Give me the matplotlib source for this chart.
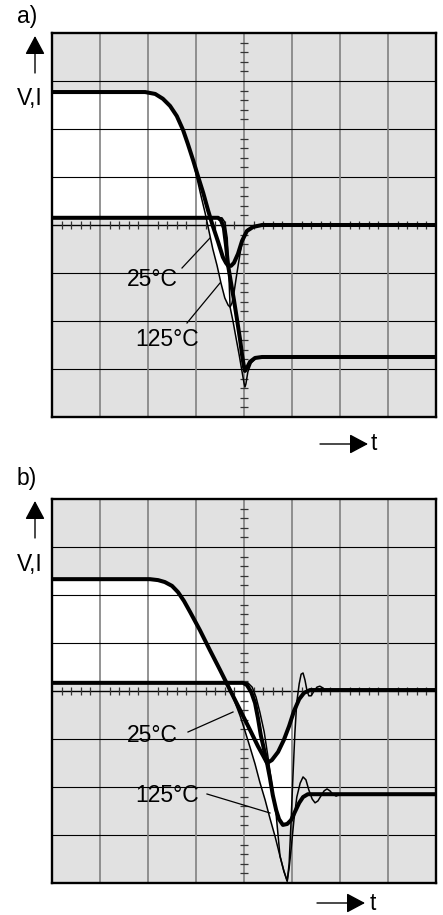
import matplotlib.pyplot as plt
from matplotlib.patches import FancyArrowPatch, Polygon
from matplotlib.lines import Line2D
import numpy as np

plt.rcParams['font.family'] = ['Liberation Sans', 'DejaVu Sans']

W, H = 443, 915
SCREEN = '#e1e1e1'
GRID_GREY = '#808080'

# ---- trace data, in screen divisions (t, level) ----
# panel a
a_i25_t = [-4.0, -2.06, -1.85, -1.69, -1.54, -1.40, -1.27, -1.17, -1.06, -0.96, -0.85, -0.75,
           -0.65, -0.54, -0.44, -0.375, -0.33, -0.27, -0.21, -0.125, -0.04, 0.06, 0.19, 0.375, 4.0]
a_i25_v = [2.77, 2.77, 2.73, 2.63, 2.48, 2.27, 1.98, 1.69, 1.35, 1.02, 0.67, 0.31,
           -0.02, -0.35, -0.67, -0.79, -0.85, -0.85, -0.79, -0.60, -0.33, -0.125, -0.04, 0.0, 0.0]

a_i125_t = [-4.0, -2.06, -1.85, -1.69, -1.54, -1.40, -1.27, -1.17, -1.06, -0.98, -0.90, -0.81,
            -0.73, -0.65, -0.56, -0.48, -0.40, -0.33, -0.29, -0.25, -0.21, -0.15, -0.08, -0.02,
            0.06, 0.19, 0.375, 4.0]
a_i125_v = [2.77, 2.77, 2.73, 2.63, 2.48, 2.27, 1.98, 1.69, 1.35, 0.98, 0.625, 0.25,
            -0.125, -0.5, -0.85, -1.21, -1.52, -1.67, -1.71, -1.625, -1.42, -1.02, -0.58, -0.27,
            -0.10, -0.02, 0.0, 0.0]

a_v25_t = [-4.0, -0.54, -0.48, -0.42, -0.375, -0.33, -0.27, -0.21, -0.15, -0.08, -0.04, 0.0,
           0.02, 0.06, 0.125, 0.23, 0.375, 4.0]
a_v25_v = [0.15, 0.15, 0.10, -0.06, -0.42, -0.85, -1.21, -1.56, -1.94, -2.40, -2.71, -2.96,
           -3.04, -2.98, -2.85, -2.77, -2.75, -2.75]

a_v125_t = [-4.0, -0.46, -0.40, -0.35, -0.32, -0.29, -0.23, -0.17, -0.10, -0.04, 0.0, 0.02,
            0.04, 0.08, 0.15, 0.25, 0.375, 4.0]
a_v125_v = [0.15, 0.15, 0.06, -0.27, -0.90, -1.71, -2.0, -2.33, -2.71, -3.06, -3.29, -3.375,
            -3.31, -3.06, -2.875, -2.77, -2.75, -2.75]

# panel b
b_i25_t = [-4.0, -1.96, -1.79, -1.65, -1.5, -1.375, -1.25, -1.125, -0.92, -0.71, -0.5, -0.29,
           -0.08, 0.125, 0.29, 0.40, 0.48, 0.58, 0.71, 0.83, 0.94, 1.04, 1.15, 1.25, 1.375, 4.0]
b_i25_v = [2.33, 2.33, 2.31, 2.27, 2.19, 2.06, 1.875, 1.65, 1.27, 0.85, 0.44, 0.02,
           -0.40, -0.81, -1.15, -1.35, -1.5, -1.44, -1.27, -1.02, -0.73, -0.42, -0.17, -0.04, 0.02, 0.02]

b_i125_t = [-4.0, -1.96, -1.79, -1.65, -1.5, -1.375, -1.25, -1.125, -0.92, -0.71, -0.5, -0.29,
            -0.19, -0.08, 0.02, 0.125, 0.23, 0.33, 0.44, 0.54, 0.65, 0.75, 0.83, 0.90,
            0.94, 0.98, 1.02, 1.06, 1.10, 1.15, 1.19, 1.23, 1.27, 1.31, 1.35, 1.40, 1.46,
            1.52, 1.58, 1.65, 1.71, 1.77, 4.0]
b_i125_v = [2.33, 2.33, 2.31, 2.27, 2.19, 2.06, 1.875, 1.65, 1.27, 0.85, 0.44, 0.02,
            -0.23, -0.52, -0.83, -1.17, -1.52, -1.90, -2.27, -2.65, -3.04, -3.44, -3.75, -3.96,
            -3.60, -2.73, -1.77, -0.875, -0.23, 0.15, 0.35, 0.375, 0.23, 0.02, -0.10, -0.10, 0.0,
            0.08, 0.10, 0.06, 0.0, 0.02, 0.02]

b_v25_t = [-4.0, -0.02, 0.06, 0.15, 0.23, 0.29, 0.35, 0.42, 0.48, 0.54, 0.60, 0.67, 0.73,
           0.81, 0.90, 0.98, 1.06, 1.15, 1.23, 1.33, 4.0]
b_v25_v = [0.17, 0.17, 0.125, -0.02, -0.25, -0.56, -0.92, -1.23, -1.5, -1.81, -2.17, -2.48, -2.67,
           -2.79, -2.77, -2.69, -2.52, -2.33, -2.21, -2.15, -2.15]

b_v125_t = [-4.0, 0.08, 0.17, 0.25, 0.33, 0.42, 0.50, 0.58, 0.67, 0.75, 0.83, 0.90, 0.94, 0.98,
            1.04, 1.10, 1.17, 1.23, 1.29, 1.35, 1.42, 1.48, 1.54, 1.60, 1.67, 1.73, 1.79, 1.85,
            1.92, 2.0, 4.0]
b_v125_v = [0.17, 0.17, 0.08, -0.125, -0.44, -0.85, -1.375, -1.96, -2.58, -3.44, -3.75, -3.96,
            -3.69, -3.31, -2.69, -2.21, -1.92, -1.79, -1.85, -2.06, -2.25, -2.33, -2.29, -2.19,
            -2.08, -2.04, -2.08, -2.15, -2.19, -2.15, -2.15]


def px(x, y):
    return x / W, 1 - y / H


def seg(t, v, lo, hi):
    t = np.asarray(t)
    v = np.asarray(v)
    m = (t >= lo - 1e-9) & (t <= hi + 1e-9)
    return np.column_stack([t[m], v[m]])


def screen(ax):
    ax.set_facecolor(SCREEN)
    ax.set_xlim(-4, 4)
    ax.set_ylim(-4, 4)
    ax.set_xticks([])
    ax.set_yticks([])
    for s in ax.spines.values():
        s.set_linewidth(1.7)
    for k in range(-3, 4):
        ax.axvline(k, color=GRID_GREY, lw=1.2, zorder=1)
        ax.axhline(k, color='black', lw=0.8 if k else 1.0, zorder=1)
    minor = [k * 0.2 for k in range(-19, 20) if k % 5]
    ax.vlines(minor, -0.09, 0.09, color='#333333', lw=0.9, zorder=1)
    ax.hlines(minor, -0.085, 0.085, color='#333333', lw=0.9, zorder=1)


def white(ax, pts):
    ax.add_patch(Polygon(pts, closed=True, facecolor='white', edgecolor='none', zorder=0.5))


def arrow(p0, p1):
    fig.add_artist(FancyArrowPatch(px(*p0), px(*p1), transform=fig.transFigure,
                                   arrowstyle='-|>,head_length=0.6,head_width=0.32',
                                   mutation_scale=19, color='black', lw=1.0,
                                   shrinkA=0, shrinkB=0))


fig = plt.figure(figsize=(W / 100, H / 100), dpi=100)
ax_a = fig.add_axes([52 / W, 1 - 417 / H, 384 / W, 384 / H])
ax_b = fig.add_axes([52 / W, 1 - 883 / H, 384 / W, 384 / H])
for ax in (ax_a, ax_b):
    screen(ax)

# panel a: white areas enclosed between current and voltage traces
white(ax_a, np.vstack([seg(a_i125_t, a_i125_v, -4, -0.29),
                       seg(a_v125_t, a_v125_v, -4, -0.29)[::-1]]))
white(ax_a, np.vstack([seg(a_i25_t, a_i25_v, -4, -0.33),
                       seg(a_v25_t, a_v25_v, -4, -0.33)[::-1]]))
white(ax_a, np.vstack([seg(a_v25_t, a_v25_v, -0.33, 0.02),
                       seg(a_v125_t, a_v125_v, -0.29, 0.02)[::-1]]))

# panel b
white(ax_b, np.vstack([seg(b_i25_t, b_i25_v, -4, 0.48),
                       seg(b_v25_t, b_v25_v, -4, 0.48)[::-1]]))
white(ax_b, np.vstack([seg(b_i125_t, b_i125_v, -4, 0.75),
                       seg(b_v125_t, b_v125_v, -4, 0.75)[::-1]]))
white(ax_b, np.vstack([seg(b_i25_t, b_i25_v, 0.48, 1.04),
                       seg(b_i125_t, b_i125_v, 0.97, 1.03)[::-1],
                       seg(b_v25_t, b_v25_v, 0.48, 0.98)[::-1]]))

for ax, traces in ((ax_a, (a_i25_t, a_i25_v, a_i125_t, a_i125_v, a_v25_t, a_v25_v, a_v125_t, a_v125_v)),
                   (ax_b, (b_i25_t, b_i25_v, b_i125_t, b_i125_v, b_v25_t, b_v25_v, b_v125_t, b_v125_v))):
    i25t, i25v, i125t, i125v, v25t, v25v, v125t, v125v = traces
    ax.plot(i125t, i125v, color='black', lw=1.1, zorder=3, solid_joinstyle='round')
    ax.plot(v125t, v125v, color='black', lw=1.1, zorder=3, solid_joinstyle='round')
    ax.plot(i25t, i25v, color='black', lw=2.9, zorder=4, solid_joinstyle='round', solid_capstyle='butt')
    ax.plot(v25t, v25v, color='black', lw=2.9, zorder=4, solid_joinstyle='round', solid_capstyle='butt')

FS = 16.5

# panel letters, vertical axis arrows and quantity labels
fig.text(*px(17, 17), 'a)', fontsize=FS, ha='left', va='center')
fig.text(*px(17, 478), 'b)', fontsize=FS, ha='left', va='center')
arrow((35, 73), (35, 36))
arrow((35, 538), (35, 501))
fig.text(*px(17, 99), 'V,I', fontsize=FS, ha='left', va='center')
fig.text(*px(17, 564), 'V,I', fontsize=FS, ha='left', va='center')

# time arrows
arrow((320, 444), (368, 444))
arrow((317, 903), (365, 903))
fig.text(*px(371, 444), 't', fontsize=FS, ha='left', va='center')
fig.text(*px(370, 903), 't', fontsize=FS, ha='left', va='center')

# temperature labels with leader lines
for txt, (tx, ty), (x0, y0, x1, y1) in [
        ('25°C', (127, 280), (182, 268, 210, 238)),
        ('125°C', (135, 339), (187, 323, 220, 283)),
        ('25°C', (127, 735), (188, 732, 233, 712)),
        ('125°C', (135, 795), (207, 794, 270, 813))]:
    fig.text(*px(tx, ty), txt, fontsize=FS, ha='left', va='center', zorder=6)
    a0, b0 = px(x0, y0)
    a1, b1 = px(x1, y1)
    fig.add_artist(Line2D([a0, a1], [b0, b1], color='black', lw=0.9, zorder=6))

fig.savefig('out.png', dpi=100)
